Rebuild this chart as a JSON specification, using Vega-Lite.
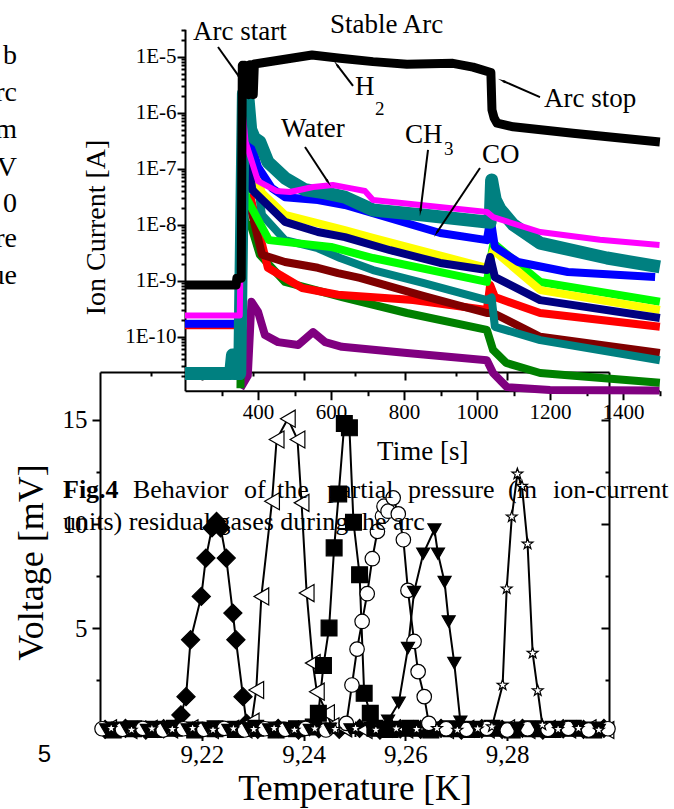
{
"$schema":"https://vega.github.io/schema/vega-lite/v6.json",
"width":674,"height":809,"autosize":{"type":"none"},"padding":0,"background":"white",
"config":{"view":{"stroke":null},
"axis":{"domainColor":"black","domainWidth":2,"tickColor":"black","tickWidth":2,"labelColor":"black","titleColor":"black","labelFont":"Liberation Serif","titleFont":"Liberation Serif","titleFontWeight":"normal","grid":false,"labelOverlap":false,"labelFlush":false,"labelBound":false},
"text":{"font":"Liberation Serif","color":"black"}},
"datasets":{
"ion":[
{"s":"P","t":352,"i":1.2e-11},{"s":"P","t":372,"i":2.0e-11},{"s":"P","t":382,"i":4.2e-10},{"s":"P","t":400,"i":2.8e-10},{"s":"P","t":419,"i":1.07e-10},{"s":"P","t":455,"i":8.0e-11},{"s":"P","t":510,"i":7.1e-11},{"s":"P","t":551,"i":1.21e-10},{"s":"P","t":584,"i":8.0e-11},{"s":"P","t":630,"i":6.6e-11},{"s":"P","t":808,"i":5.1e-11},{"s":"P","t":1027,"i":3.8e-11},{"s":"P","t":1044,"i":2.25e-11},{"s":"P","t":1082,"i":1.26e-11},{"s":"P","t":1200,"i":1.12e-11},{"s":"P","t":1500,"i":1.1e-11},
{"s":"G","t":352,"i":1.2e-11},{"s":"G","t":356,"i":3.2e-8},{"s":"G","t":366,"i":1.0e-8},{"s":"G","t":380,"i":1.0e-8},{"s":"G","t":405,"i":2.9e-9},{"s":"G","t":474,"i":9.5e-10},{"s":"G","t":630,"i":5.1e-10},{"s":"G","t":808,"i":2.65e-10},{"s":"G","t":1027,"i":1.32e-10},{"s":"G","t":1044,"i":5.8e-11},{"s":"G","t":1080,"i":3.4e-11},{"s":"G","t":1173,"i":2.25e-11},{"s":"G","t":1501,"i":1.5e-11},
{"s":"R","t":200,"i":1.6e-10},{"s":"R","t":350,"i":1.6e-10},{"s":"R","t":357,"i":5e-8},{"s":"R","t":366,"i":2e-8},{"s":"R","t":380,"i":3e-8},{"s":"R","t":427,"i":1.7e-9},{"s":"R","t":521,"i":7.4e-10},{"s":"R","t":619,"i":5.6e-10},{"s":"R","t":825,"i":4.5e-10},{"s":"R","t":1027,"i":3.0e-10},{"s":"R","t":1036,"i":8.4e-10},{"s":"R","t":1049,"i":5.1e-10},{"s":"R","t":1173,"i":2.65e-10},{"s":"R","t":1501,"i":1.5e-10},
{"s":"W","t":352,"i":1.6e-10},{"s":"W","t":357,"i":5e-8},{"s":"W","t":366,"i":2e-8},{"s":"W","t":380,"i":2e-8},{"s":"W","t":411,"i":2.9e-9},{"s":"W","t":474,"i":2.16e-9},{"s":"W","t":564,"i":1.7e-9},{"s":"W","t":619,"i":1.37e-9},{"s":"W","t":679,"i":1.12e-9},{"s":"W","t":850,"i":5.4e-10},{"s":"W","t":1027,"i":2.65e-10},{"s":"W","t":1044,"i":2.65e-10},{"s":"W","t":1173,"i":1.0e-10},{"s":"W","t":1501,"i":5.1e-11},
{"s":"T2","t":200,"i":2.0e-11},{"s":"T2","t":350,"i":2.0e-11},{"s":"T2","t":357,"i":6.3e-7},{"s":"T2","t":366,"i":1e-7},{"s":"T2","t":384,"i":2.15e-7},{"s":"T2","t":411,"i":1.5e-8},{"s":"T2","t":474,"i":5.3e-9},{"s":"T2","t":564,"i":3.8e-9},{"s":"T2","t":625,"i":2.54e-9},{"s":"T2","t":715,"i":1.55e-9},{"s":"T2","t":852,"i":9.1e-10},{"s":"T2","t":1027,"i":4.5e-10},{"s":"T2","t":1040,"i":5e-10},{"s":"T2","t":1049,"i":1.5e-10},{"s":"T2","t":1173,"i":8.7e-11},{"s":"T2","t":1501,"i":3.8e-11},
{"s":"L","t":352,"i":1.5e-10},{"s":"L","t":358,"i":1e-7},{"s":"L","t":368,"i":3e-8},{"s":"L","t":430,"i":5.3e-9},{"s":"L","t":600,"i":4.0e-9},{"s":"L","t":715,"i":2.54e-9},{"s":"L","t":1027,"i":9.5e-10},{"s":"L","t":1045,"i":4.7e-9},{"s":"L","t":1173,"i":9.5e-10},{"s":"L","t":1501,"i":4.2e-10},
{"s":"Y","t":351,"i":3.2e-9},{"s":"Y","t":356,"i":3.2e-7},{"s":"Y","t":366,"i":1e-7},{"s":"Y","t":375,"i":2e-7},{"s":"Y","t":411,"i":3.7e-8},{"s":"Y","t":474,"i":1.5e-8},{"s":"Y","t":638,"i":8.0e-9},{"s":"Y","t":715,"i":5.8e-9},{"s":"Y","t":1027,"i":1.7e-9},{"s":"Y","t":1045,"i":3.5e-9},{"s":"Y","t":1173,"i":6.8e-10},{"s":"Y","t":1501,"i":3.0e-10},
{"s":"N","t":356,"i":2.5e-7},{"s":"N","t":366,"i":8e-8},{"s":"N","t":372,"i":2e-7},{"s":"N","t":384,"i":4.2e-8},{"s":"N","t":474,"i":1.12e-8},{"s":"N","t":564,"i":7.4e-9},{"s":"N","t":638,"i":6.0e-9},{"s":"N","t":762,"i":3.5e-9},{"s":"N","t":899,"i":2.07e-9},{"s":"N","t":1027,"i":1.55e-9},{"s":"N","t":1036,"i":2.65e-9},{"s":"N","t":1049,"i":1.16e-9},{"s":"N","t":1173,"i":4.5e-10},{"s":"N","t":1501,"i":2.16e-10},
{"s":"B","t":200,"i":1.7e-10},{"s":"B","t":350,"i":1.7e-10},{"s":"B","t":356,"i":1.26e-6},{"s":"B","t":362,"i":4e-7},{"s":"B","t":368,"i":1.2e-6},{"s":"B","t":380,"i":3e-7},{"s":"B","t":400,"i":1.07e-7},{"s":"B","t":438,"i":4.5e-8},{"s":"B","t":474,"i":3.1e-8},{"s":"B","t":564,"i":2.76e-8},{"s":"B","t":638,"i":2.25e-8},{"s":"B","t":899,"i":7.1e-9},{"s":"B","t":1027,"i":5.3e-9},{"s":"B","t":1037,"i":1.32e-8},{"s":"B","t":1049,"i":4.0e-9},{"s":"B","t":1112,"i":2.16e-9},{"s":"B","t":1249,"i":1.43e-9},{"s":"B","t":1488,"i":1.16e-9},
{"s":"T1","t":200,"i":2.2e-11},{"s":"T1","t":325,"i":2.2e-11},{"s":"T1","t":330,"i":4.7e-11},{"s":"T1","t":336,"i":2.2e-11},{"s":"T1","t":350,"i":2.2e-11},{"s":"T1","t":360,"i":2.2e-6},{"s":"T1","t":365,"i":1.0e-6},{"s":"T1","t":372,"i":2.0e-6},{"s":"T1","t":380,"i":5e-7},{"s":"T1","t":390,"i":3.5e-7},{"s":"T1","t":405,"i":3.0e-7},{"s":"T1","t":427,"i":1.32e-7},{"s":"T1","t":474,"i":6.8e-8},{"s":"T1","t":529,"i":4.2e-8},{"s":"T1","t":584,"i":3.7e-8},{"s":"T1","t":638,"i":3.1e-8},{"s":"T1","t":715,"i":1.83e-8},{"s":"T1","t":852,"i":1.49e-8},{"s":"T1","t":1027,"i":1.12e-8},{"s":"T1","t":1036,"i":1.1e-8},{"s":"T1","t":1040,"i":6.3e-8},{"s":"T1","t":1044,"i":4.5e-8},{"s":"T1","t":1050,"i":2.8e-8},{"s":"T1","t":1063,"i":1.9e-8},{"s":"T1","t":1099,"i":1.0e-8},{"s":"T1","t":1173,"i":4.7e-9},{"s":"T1","t":1356,"i":2.54e-9},{"s":"T1","t":1501,"i":1.76e-9},
{"s":"M","t":200,"i":2.4e-10},{"s":"M","t":350,"i":2.4e-10},{"s":"M","t":358,"i":1.0e-6},{"s":"M","t":366,"i":3e-7},{"s":"M","t":400,"i":6e-8},{"s":"M","t":450,"i":4.0e-8},{"s":"M","t":488,"i":3.84e-8},{"s":"M","t":551,"i":4.7e-8},{"s":"M","t":605,"i":5.1e-8},{"s":"M","t":652,"i":4.5e-8},{"s":"M","t":693,"i":4.0e-8},{"s":"M","t":715,"i":2.76e-8},{"s":"M","t":871,"i":2.16e-8},{"s":"M","t":1027,"i":1.69e-8},{"s":"M","t":1044,"i":1.37e-8},{"s":"M","t":1173,"i":7.4e-9},{"s":"M","t":1337,"i":5.4e-9},{"s":"M","t":1500,"i":4.35e-9},
{"s":"K","t":200,"i":8.4e-10},{"s":"K","t":340,"i":8.4e-10},{"s":"K","t":342,"i":1.1e-9},{"s":"K","t":354,"i":1.1e-9},{"s":"K","t":357,"i":7.0e-6},{"s":"K","t":360,"i":2.1e-6},{"s":"K","t":363,"i":7.0e-6},{"s":"K","t":375,"i":2.1e-6},{"s":"K","t":378,"i":7.2e-6},{"s":"K","t":387,"i":2.1e-6},{"s":"K","t":390,"i":7.4e-6},{"s":"K","t":548,"i":1.07e-5},{"s":"K","t":625,"i":9.35e-6},{"s":"K","t":715,"i":8.15e-6},{"s":"K","t":808,"i":7.3e-6},{"s":"K","t":934,"i":7.6e-6},{"s":"K","t":989,"i":6.5e-6},{"s":"K","t":1038,"i":5.2e-6},{"s":"K","t":1041,"i":1.12e-6},{"s":"K","t":1047,"i":8.0e-7},{"s":"K","t":1055,"i":6.5e-7},{"s":"K","t":1099,"i":5.6e-7},{"s":"K","t":1263,"i":4.3e-7},{"s":"K","t":1501,"i":3.0e-7}
],
"volt":[
{"s":"A","T":9.2010,"V":0.15},{"s":"A","T":9.2050,"V":0.2},{"s":"A","T":9.2090,"V":0.12},{"s":"A","T":9.2125,"V":0.18},
{"s":"A","T":9.2152,"V":0.28},{"s":"A","T":9.2159,"V":0.84},{"s":"A","T":9.2169,"V":1.72},{"s":"A","T":9.2178,"V":4.45},{"s":"A","T":9.2199,"V":6.53},{"s":"A","T":9.2208,"V":8.37},{"s":"A","T":9.2220,"V":9.82},{"s":"A","T":9.2229,"V":10.13},{"s":"A","T":9.2237,"V":9.82},{"s":"A","T":9.2248,"V":8.37},{"s":"A","T":9.2261,"V":5.73},{"s":"A","T":9.2267,"V":4.45},{"s":"A","T":9.2281,"V":1.72},{"s":"A","T":9.2288,"V":0.44},
{"s":"A","T":9.2310,"V":0.15},{"s":"A","T":9.2350,"V":0.2},{"s":"A","T":9.2390,"V":0.12},{"s":"A","T":9.2430,"V":0.18},{"s":"A","T":9.2470,"V":0.15},{"s":"A","T":9.2510,"V":0.2},{"s":"A","T":9.2550,"V":0.12},{"s":"A","T":9.2590,"V":0.18},{"s":"A","T":9.2630,"V":0.15},{"s":"A","T":9.2670,"V":0.2},{"s":"A","T":9.2710,"V":0.12},{"s":"A","T":9.2750,"V":0.18},{"s":"A","T":9.2790,"V":0.15},{"s":"A","T":9.2830,"V":0.2},{"s":"A","T":9.2870,"V":0.12},{"s":"A","T":9.2910,"V":0.18},{"s":"A","T":9.2950,"V":0.15},{"s":"A","T":9.2990,"V":0.2},
{"s":"B","T":9.2018,"V":0.2},{"s":"B","T":9.2058,"V":0.12},{"s":"B","T":9.2098,"V":0.18},{"s":"B","T":9.2138,"V":0.15},{"s":"B","T":9.2178,"V":0.2},{"s":"B","T":9.2218,"V":0.12},{"s":"B","T":9.2258,"V":0.18},{"s":"B","T":9.2284,"V":0.15},
{"s":"B","T":9.2298,"V":0.52},{"s":"B","T":9.2307,"V":2.04},{"s":"B","T":9.2317,"V":6.53},{"s":"B","T":9.2338,"V":11.1},{"s":"B","T":9.2347,"V":14.06},{"s":"B","T":9.2369,"V":15.06},{"s":"B","T":9.2388,"V":14.06},{"s":"B","T":9.2396,"V":11.02},{"s":"B","T":9.2406,"V":6.69},{"s":"B","T":9.2418,"V":3.33},{"s":"B","T":9.2426,"V":1.96},{"s":"B","T":9.2446,"V":0.92},{"s":"B","T":9.2455,"V":0.3},
{"s":"B","T":9.2480,"V":0.2},{"s":"B","T":9.2520,"V":0.12},{"s":"B","T":9.2560,"V":0.18},{"s":"B","T":9.2600,"V":0.15},{"s":"B","T":9.2640,"V":0.2},{"s":"B","T":9.2680,"V":0.12},{"s":"B","T":9.2720,"V":0.18},{"s":"B","T":9.2760,"V":0.15},{"s":"B","T":9.2800,"V":0.2},{"s":"B","T":9.2840,"V":0.12},{"s":"B","T":9.2880,"V":0.18},{"s":"B","T":9.2920,"V":0.15},{"s":"B","T":9.2960,"V":0.2},{"s":"B","T":9.2995,"V":0.12},
{"s":"C","T":9.2026,"V":0.12},{"s":"C","T":9.2066,"V":0.18},{"s":"C","T":9.2106,"V":0.15},{"s":"C","T":9.2146,"V":0.2},{"s":"C","T":9.2186,"V":0.12},{"s":"C","T":9.2226,"V":0.18},{"s":"C","T":9.2266,"V":0.15},{"s":"C","T":9.2306,"V":0.2},{"s":"C","T":9.2346,"V":0.12},{"s":"C","T":9.2386,"V":0.18},
{"s":"C","T":9.2419,"V":0.26},{"s":"C","T":9.2429,"V":0.92},{"s":"C","T":9.2439,"V":3.21},{"s":"C","T":9.2450,"V":5.01},{"s":"C","T":9.2460,"V":8.86},{"s":"C","T":9.2469,"V":11.45},{"s":"C","T":9.2480,"V":14.83},{"s":"C","T":9.2490,"V":14.62},{"s":"C","T":9.2498,"V":10.09},{"s":"C","T":9.2510,"V":7.57},{"s":"C","T":9.2519,"V":1.88},{"s":"C","T":9.2531,"V":0.92},{"s":"C","T":9.2540,"V":0.2},
{"s":"C","T":9.2570,"V":0.15},{"s":"C","T":9.2610,"V":0.2},{"s":"C","T":9.2650,"V":0.12},{"s":"C","T":9.2690,"V":0.18},{"s":"C","T":9.2730,"V":0.15},{"s":"C","T":9.2770,"V":0.2},{"s":"C","T":9.2810,"V":0.12},{"s":"C","T":9.2850,"V":0.18},{"s":"C","T":9.2890,"V":0.15},{"s":"C","T":9.2930,"V":0.2},{"s":"C","T":9.2970,"V":0.12},
{"s":"D","T":9.2004,"V":0.18},{"s":"D","T":9.2044,"V":0.15},{"s":"D","T":9.2084,"V":0.2},{"s":"D","T":9.2124,"V":0.12},{"s":"D","T":9.2164,"V":0.18},{"s":"D","T":9.2204,"V":0.15},{"s":"D","T":9.2244,"V":0.2},{"s":"D","T":9.2284,"V":0.12},{"s":"D","T":9.2324,"V":0.18},{"s":"D","T":9.2364,"V":0.15},{"s":"D","T":9.2404,"V":0.2},{"s":"D","T":9.2444,"V":0.12},
{"s":"D","T":9.2484,"V":0.44},{"s":"D","T":9.2495,"V":2.28},{"s":"D","T":9.2505,"V":4.0},{"s":"D","T":9.2515,"V":5.33},{"s":"D","T":9.2525,"V":6.66},{"s":"D","T":9.2535,"V":8.34},{"s":"D","T":9.2545,"V":9.65},{"s":"D","T":9.2555,"V":10.38},{"s":"D","T":9.2558,"V":10.86},{"s":"D","T":9.2566,"V":10.62},{"s":"D","T":9.2576,"V":11.26},{"s":"D","T":9.2586,"V":10.49},{"s":"D","T":9.2596,"V":9.25},{"s":"D","T":9.2605,"V":6.82},{"s":"D","T":9.2617,"V":4.37},{"s":"D","T":9.2625,"V":2.92},{"s":"D","T":9.2637,"V":1.72},{"s":"D","T":9.2646,"V":0.44},
{"s":"D","T":9.2680,"V":0.18},{"s":"D","T":9.2720,"V":0.15},{"s":"D","T":9.2760,"V":0.2},{"s":"D","T":9.2800,"V":0.12},{"s":"D","T":9.2840,"V":0.18},{"s":"D","T":9.2880,"V":0.15},{"s":"D","T":9.2920,"V":0.2},{"s":"D","T":9.2960,"V":0.12},{"s":"D","T":9.2998,"V":0.18},
{"s":"E","T":9.2012,"V":0.15},{"s":"E","T":9.2052,"V":0.2},{"s":"E","T":9.2092,"V":0.12},{"s":"E","T":9.2132,"V":0.18},{"s":"E","T":9.2172,"V":0.15},{"s":"E","T":9.2212,"V":0.2},{"s":"E","T":9.2252,"V":0.12},{"s":"E","T":9.2292,"V":0.18},{"s":"E","T":9.2332,"V":0.15},{"s":"E","T":9.2372,"V":0.2},{"s":"E","T":9.2412,"V":0.12},{"s":"E","T":9.2452,"V":0.18},{"s":"E","T":9.2492,"V":0.15},{"s":"E","T":9.2532,"V":0.2},
{"s":"E","T":9.2566,"V":0.57},{"s":"E","T":9.2587,"V":1.43},{"s":"E","T":9.2605,"V":4.05},{"s":"E","T":9.2617,"V":6.74},{"s":"E","T":9.2635,"V":8.58},{"s":"E","T":9.2657,"V":9.74},{"s":"E","T":9.2664,"V":8.58},{"s":"E","T":9.2677,"V":7.22},{"s":"E","T":9.2685,"V":5.33},{"s":"E","T":9.2696,"V":3.33},{"s":"E","T":9.2708,"V":0.52},
{"s":"E","T":9.2740,"V":0.15},{"s":"E","T":9.2780,"V":0.2},{"s":"E","T":9.2820,"V":0.12},{"s":"E","T":9.2860,"V":0.18},{"s":"E","T":9.2900,"V":0.15},{"s":"E","T":9.2940,"V":0.2},{"s":"E","T":9.2980,"V":0.12},
{"s":"F","T":9.2022,"V":0.2},{"s":"F","T":9.2062,"V":0.12},{"s":"F","T":9.2102,"V":0.18},{"s":"F","T":9.2142,"V":0.15},{"s":"F","T":9.2182,"V":0.2},{"s":"F","T":9.2222,"V":0.12},{"s":"F","T":9.2262,"V":0.18},{"s":"F","T":9.2302,"V":0.15},{"s":"F","T":9.2342,"V":0.2},{"s":"F","T":9.2382,"V":0.12},{"s":"F","T":9.2422,"V":0.18},{"s":"F","T":9.2462,"V":0.15},{"s":"F","T":9.2502,"V":0.2},{"s":"F","T":9.2542,"V":0.12},{"s":"F","T":9.2582,"V":0.18},{"s":"F","T":9.2622,"V":0.15},{"s":"F","T":9.2662,"V":0.2},{"s":"F","T":9.2702,"V":0.12},{"s":"F","T":9.2742,"V":0.18},
{"s":"F","T":9.2770,"V":0.28},{"s":"F","T":9.2791,"V":2.28},{"s":"F","T":9.2799,"V":6.9},{"s":"F","T":9.2809,"V":10.35},{"s":"F","T":9.2820,"V":12.41},{"s":"F","T":9.2829,"V":11.82},{"s":"F","T":9.2840,"V":9.05},{"s":"F","T":9.2850,"V":3.81},{"s":"F","T":9.2860,"V":2.01},{"s":"F","T":9.2869,"V":0.36},
{"s":"F","T":9.2900,"V":0.15},{"s":"F","T":9.2940,"V":0.2},{"s":"F","T":9.2980,"V":0.12}
]},
"layer":[
{
"data":{"name":"ion"},
"encoding":{
"x":{"field":"t","type":"quantitative","scale":{"domain":[200,1500],"range":[185,659.5],"nice":false,"zero":false},
"axis":{"orient":"bottom","offset":-418.3,"title":"Time [s]","values":[300,400,500,600,700,800,900,1000,1100,1200,1300,1400,1500],"format":"d","labelExpr":"datum.value % 200 == 0 ? datum.label : ''","tickSize":{"condition":{"test":"datum.value % 200 == 0","value":9},"value":5},"labelFontSize":21,"labelPadding":2,"titleFontSize":27,"titlePadding":16}},
"y":{"field":"i","type":"quantitative","scale":{"type":"log","domain":[1.086e-11,3.08e-5],"range":[390.7,29.3],"nice":false},
"axis":{"orient":"left","offset":-185,"title":"Ion Current [A]","titleY":227,"values":[2e-11,3e-11,4e-11,5e-11,6e-11,7e-11,8e-11,9e-11,1e-10,2e-10,3e-10,4e-10,5e-10,6e-10,7e-10,8e-10,9e-10,1e-9,2e-9,3e-9,4e-9,5e-9,6e-9,7e-9,8e-9,9e-9,1e-8,2e-8,3e-8,4e-8,5e-8,6e-8,7e-8,8e-8,9e-8,1e-7,2e-7,3e-7,4e-7,5e-7,6e-7,7e-7,8e-7,9e-7,1e-6,2e-6,3e-6,4e-6,5e-6,6e-6,7e-6,8e-6,9e-6,1e-5,2e-5,3e-5],
"labelExpr":"abs(log(datum.value)/LN10 - round(log(datum.value)/LN10)) < 0.01 ? '1E' + round(log(datum.value)/LN10) : ''",
"tickSize":{"condition":{"test":"abs(log(datum.value)/LN10 - round(log(datum.value)/LN10)) < 0.01","value":8},"value":4},
"labelFontSize":21,"labelPadding":1,"titleFontSize":28,"titlePadding":14}}
},
"layer":[
{"transform":[{"filter":{"field":"s","oneOf":["P","G","R","W","T2","L","Y","N","B"]}}],
"mark":{"type":"line","strokeWidth":8,"strokeJoin":"round"},
"encoding":{"color":{"field":"s","type":"nominal","legend":null,"scale":{"domain":["P","G","R","W","T2","L","Y","N","B","T1","M","K"],"range":["#800080","#008000","#FF0000","#800000","#008080","#00FF00","#FFFF00","#000080","#0000FF","#008080","#FF00FF","#000000"]}}}},
{"transform":[{"filter":{"field":"s","equal":"T1"}}],
"mark":{"type":"line","strokeWidth":13,"strokeJoin":"round","color":"#008080"},"encoding":{}},
{"transform":[{"filter":{"field":"s","equal":"M"}}],
"mark":{"type":"line","strokeWidth":6,"strokeJoin":"round","color":"#FF00FF"},"encoding":{}},
{"transform":[{"filter":{"field":"s","equal":"K"}}],
"mark":{"type":"line","strokeWidth":9,"strokeJoin":"round","color":"#000000"},"encoding":{}},
{"data":{"values":[
{"t":290.4,"i":1.49e-5,"t2":350.7,"i2":4.17e-6},
{"t":660.3,"i":3.0e-6,"t2":616.4,"i2":7.11e-6},
{"t":1172.6,"i":1.9e-6,"t2":1071.2,"i2":3.68e-6},
{"t":528.8,"i":2.44e-7,"t2":591.8,"i2":5.79e-8},
{"t":865.8,"i":2.16e-7,"t2":845.2,"i2":1.76e-8},
{"t":1008.2,"i":1.03e-7,"t2":890.4,"i2":7.31e-9}]},
"mark":{"type":"rule","color":"black","strokeWidth":2},
"encoding":{"x2":{"field":"t2"},"y2":{"field":"i2"}}},
{"data":{"values":[{"t":350.7,"i":4.17e-6}]},"mark":{"type":"point","shape":"wedge","angle":145,"filled":true,"color":"black","size":90,"opacity":1},"encoding":{}},
{"data":{"values":[{"t":616.4,"i":7.11e-6}]},"mark":{"type":"point","shape":"wedge","angle":323,"filled":true,"color":"black","size":90,"opacity":1},"encoding":{}},
{"data":{"values":[{"t":1071.2,"i":3.68e-6}]},"mark":{"type":"point","shape":"wedge","angle":293,"filled":true,"color":"black","size":90,"opacity":1},"encoding":{}},
{"data":{"values":[{"t":591.8,"i":5.79e-8}]},"mark":{"type":"point","shape":"wedge","angle":147,"filled":true,"color":"black","size":90,"opacity":1},"encoding":{}},
{"data":{"values":[{"t":845.2,"i":1.76e-8}]},"mark":{"type":"point","shape":"wedge","angle":187,"filled":true,"color":"black","size":90,"opacity":1},"encoding":{}},
{"data":{"values":[{"t":890.4,"i":7.31e-9}]},"mark":{"type":"point","shape":"wedge","angle":213,"filled":true,"color":"black","size":90,"opacity":1},"encoding":{}},
{"data":{"values":[
{"t":221.9,"i":1.99e-5,"txt":"Arc start"},
{"t":597.3,"i":2.65e-5,"txt":"Stable Arc"},
{"t":665.8,"i":2.07e-6,"txt":"H"},
{"t":1183.6,"i":1.26e-6,"txt":"Arc stop"},
{"t":463,"i":3.68e-7,"txt":"Water"},
{"t":802.7,"i":2.88e-7,"txt":"CH"},
{"t":1013.7,"i":1.26e-7,"txt":"CO"}]},
"mark":{"type":"text","align":"left","baseline":"alphabetic","fontSize":27,"font":"Liberation Serif","color":"black"},
"encoding":{"text":{"field":"txt"}}},
{"data":{"values":[
{"t":720.5,"i":9.1e-7,"txt":"2"},
{"t":909.6,"i":1.76e-7,"txt":"3"}]},
"mark":{"type":"text","align":"left","baseline":"alphabetic","fontSize":19,"font":"Liberation Serif","color":"black"},
"encoding":{"text":{"field":"txt"}}}
]
},
{
"data":{"name":"volt"},
"encoding":{
"x":{"field":"T","type":"quantitative","scale":{"domain":[9.2,9.3],"range":[100,609],"nice":false,"zero":false},"axis":null},
"y":{"field":"V","type":"quantitative","scale":{"domain":[0,17.3],"range":[732.5,372],"nice":false,"zero":false},"axis":null}
},
"layer":[
{"mark":{"type":"line","color":"black","strokeWidth":2},
"encoding":{"detail":{"field":"s"},
"x":{"field":"T","type":"quantitative","scale":{"domain":[9.2,9.3],"range":[100,609],"nice":false,"zero":false},
"axis":{"orient":"top","offset":-372,"title":null,"labels":false,"values":[9.21,9.22,9.23,9.24,9.25,9.26,9.27,9.28,9.29],"tickSize":{"condition":{"test":"round(datum.value*100) % 2 == 0","value":-8},"value":-4}}},
"y":{"field":"V","type":"quantitative","scale":{"domain":[0,17.3],"range":[732.5,372],"nice":false,"zero":false},
"axis":{"orient":"right","offset":-65,"title":null,"labels":false,"values":[2.5,5,7.5,10,12.5,15],"tickSize":{"condition":{"test":"datum.value % 5 == 0","value":-8},"value":-4}}}}},
{"mark":{"type":"point","filled":true,"stroke":"black","strokeWidth":1.2,"opacity":1},
"encoding":{
"x":{"field":"T","type":"quantitative","scale":{"domain":[9.2,9.3],"range":[100,609],"nice":false,"zero":false},
"axis":{"orient":"bottom","offset":-76.5,"title":"Temperature [K]","values":[9.21,9.22,9.23,9.24,9.25,9.26,9.27,9.28,9.29],
"labelExpr":"round(datum.value*100) % 2 == 0 ? replace(format(datum.value, '.2f'), '.', ',') : ''",
"tickSize":{"condition":{"test":"round(datum.value*100) % 2 == 0","value":8},"value":4},
"labelFontSize":25,"labelPadding":2,"titleFontSize":35,"titlePadding":4}},
"y":{"field":"V","type":"quantitative","scale":{"domain":[0,17.3],"range":[732.5,372],"nice":false,"zero":false},
"axis":{"orient":"left","offset":-100,"title":"Voltage [mV]","titleY":562,"values":[2.5,5,7.5,10,12.5,15],
"labelExpr":"datum.value % 5 == 0 ? datum.label : ''",
"tickSize":{"condition":{"test":"datum.value % 5 == 0","value":8},"value":4},
"labelFontSize":25,"labelPadding":5,"titleFontSize":36,"titlePadding":12}},
"shape":{"field":"s","type":"nominal","legend":null,"scale":{"domain":["A","B","C","D","E","F"],"range":["diamond","triangle-left","square","circle","triangle-down","M0,-1L0.235,-0.324L0.951,-0.309L0.38,0.124L0.588,0.809L0,0.4L-0.588,0.809L-0.38,0.124L-0.951,-0.309L-0.235,-0.324Z"]}},
"fill":{"field":"s","type":"nominal","legend":null,"scale":{"domain":["A","B","C","D","E","F"],"range":["black","white","black","white","black","white"]}},
"size":{"field":"s","type":"ordinal","legend":null,"scale":{"domain":["A","B","C","D","E","F"],"range":[330,130,95,95,130,320]}}}},
{"data":{"values":[
{"T":9.1837,"V":32.09,"txt":"b"},{"T":9.1837,"V":30.31,"txt":"rc"},{"T":9.1837,"V":28.53,"txt":"m"},{"T":9.1837,"V":26.71,"txt":"V"},{"T":9.1837,"V":24.98,"txt":"0"},{"T":9.1837,"V":23.29,"txt":"re"},{"T":9.1837,"V":21.51,"txt":"ue"}]},
"mark":{"type":"text","align":"right","baseline":"alphabetic","fontSize":28,"font":"Liberation Serif","color":"black"},
"encoding":{"text":{"field":"txt"}}},
{"data":{"values":[{"T":9.19273,"V":11.274,"txt":"Fig.4"}]},
"mark":{"type":"text","align":"left","baseline":"alphabetic","fontSize":26,"fontWeight":"bold","font":"Liberation Serif","color":"black"},
"encoding":{"text":{"field":"txt"}}},
{"data":{"values":[
{"T":9.20648,"V":11.274,"txt":"Behavior"},{"T":9.22829,"V":11.274,"txt":"of"},{"T":9.23477,"V":11.274,"txt":"the"},{"T":9.2446,"V":11.274,"txt":"partial"},{"T":9.26051,"V":11.274,"txt":"pressure"},{"T":9.28016,"V":11.274,"txt":"(in"},{"T":9.289,"V":11.274,"txt":"ion-current"},
{"T":9.19273,"V":9.702,"txt":"units) residual gases during the arc"}]},
"mark":{"type":"text","align":"left","baseline":"alphabetic","fontSize":26,"font":"Liberation Serif","color":"black"},
"encoding":{"text":{"field":"txt"}}},
{"data":{"values":[{"T":9.1891,"V":-1.418,"txt":"5"}]},
"mark":{"type":"text","align":"center","baseline":"alphabetic","fontSize":24,"font":"Liberation Sans","color":"black"},
"encoding":{"text":{"field":"txt"}}}
]
}
],
"resolve":{"scale":{"x":"independent","y":"independent","color":"independent","shape":"independent","fill":"independent","size":"independent"},"axis":{"x":"independent","y":"independent"}}
}
